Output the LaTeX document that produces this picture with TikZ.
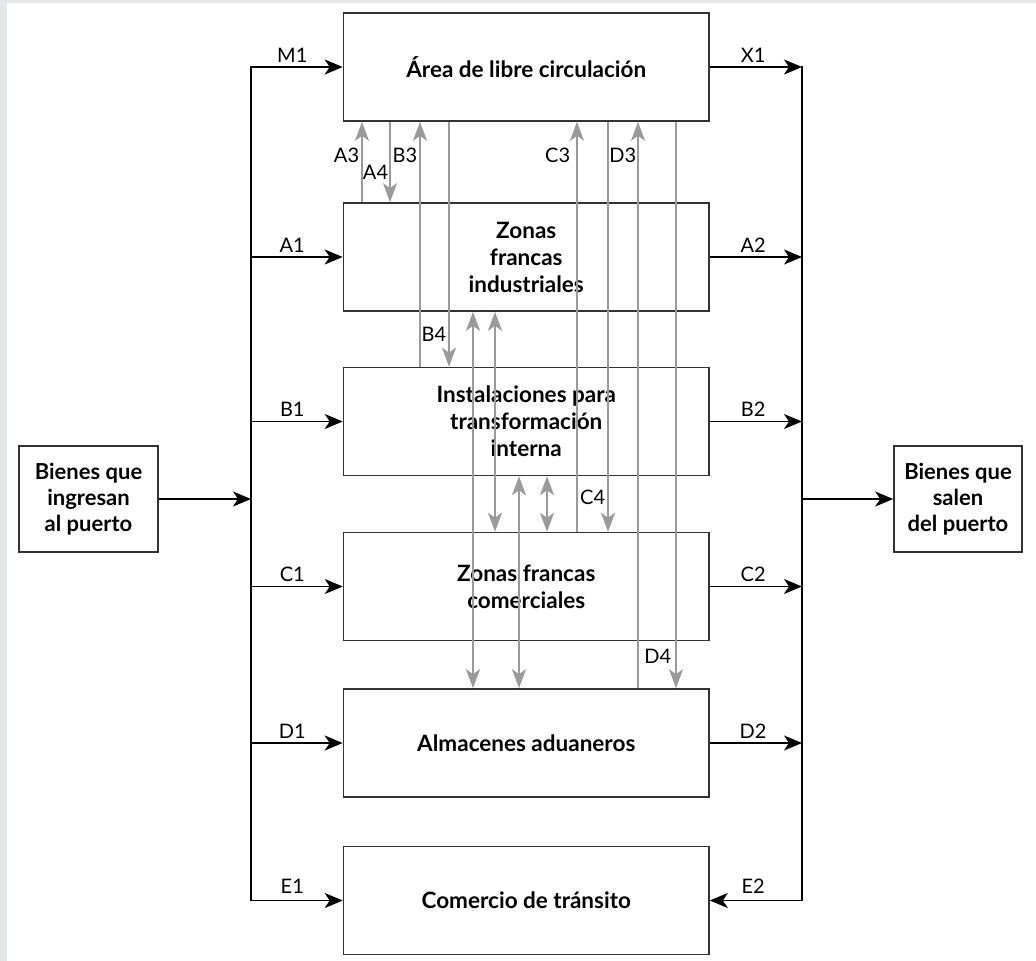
\documentclass[tikz,border=0pt]{standalone}
\usepackage{fontspec}
\setmainfont{Lato}
\usetikzlibrary{arrows.meta}
\definecolor{bggray}{HTML}{E6E7E9}
\definecolor{boxline}{HTML}{333333}
\definecolor{garrowc}{HTML}{9A9A9A}
\begin{document}
\begin{tikzpicture}[x=1pt,y=-1pt,
  box/.style={draw=boxline, line width=1.6pt, fill=white, minimum width=365.5pt, minimum height=108pt, inner sep=0pt, align=center, font=\bfseries\fontsize{22.5}{27}\selectfont},
  sidebox/.style={draw=boxline, line width=1.6pt, fill=white, minimum height=106pt, inner sep=0pt, align=center, font=\bfseries\fontsize{22}{26}\selectfont},
  bus/.style={line width=1.8pt, line cap=rect},
  flow/.style={line width=1.8pt, -{Stealth[length=18pt,width=15pt,inset=5pt]}},
  gone/.style={draw=garrowc, line width=1.8pt, -{Stealth[length=19pt,width=14pt,inset=5pt]}},
  gtwo/.style={draw=garrowc, line width=1.8pt, {Stealth[length=19pt,width=14pt,inset=5pt]}-{Stealth[length=19pt,width=14pt,inset=5pt]}},
  lab/.style={font=\fontsize{20}{23}\selectfont, inner sep=0pt, text=black}
]
\useasboundingbox (0,0) rectangle (1036,961);
\fill[bggray] (0,0) rectangle (1036,961);
\fill[white] (7,3) rectangle (1036,961);

% main boxes
\node[box] (top)  at (526.25,67)    {Área de libre circulación};
\node[box] (ind)  at (526.25,257)   {Zonas\\francas\\industriales};
\node[box] (inst) at (526.25,421.5) {Instalaciones para\\transformación\\interna};
\node[box] (com)  at (526.25,586.5) {Zonas francas\\comerciales};
\node[box] (alm)  at (526.25,743)   {Almacenes aduaneros};
\node[box] (tra)  at (526.25,900.5) {Comercio de tránsito};

% side boxes
\node[sidebox, minimum width=139pt] (inL)  at (88.5,499) {Bienes que\\ingresan\\al puerto};
\node[sidebox, minimum width=128pt] (outR) at (958,499)  {Bienes que\\salen\\del puerto};

% buses
\coordinate (lbus) at (251,0);
\coordinate (rbus) at (802,0);
\draw[bus] (top.west -| lbus) -- (tra.west -| lbus);
\draw[bus] (top.east -| rbus) -- (tra.east -| rbus);

% input / output
\draw[flow] (inL.east) -- (inL.east -| lbus);
\draw[flow] (outR.west -| rbus) -- (outR.west);

% left arrows
\draw[flow] (top.west -| lbus)  -- node[lab,above=4pt,pos=0.45] (lM1) {M1} (top.west);
\draw[flow] (ind.west -| lbus)  -- node[lab,above=4pt,pos=0.45] (lA1) {A1} (ind.west);
\draw[flow] (inst.west -| lbus) -- node[lab,above=4pt,pos=0.45] (lB1) {B1} (inst.west);
\draw[flow] (com.west -| lbus)  -- node[lab,above=4pt,pos=0.45] (lC1) {C1} (com.west);
\draw[flow] (alm.west -| lbus)  -- node[lab,above=4pt,pos=0.45] (lD1) {D1} (alm.west);
\draw[flow] (tra.west -| lbus)  -- node[lab,above=6pt,pos=0.45] (lE1) {E1} (tra.west);

% right arrows
\draw[flow] (top.east)  -- node[lab,above=4pt,pos=0.47] (lX1) {X1} (top.east -| rbus);
\draw[flow] (ind.east)  -- node[lab,above=4pt,pos=0.47] (lA2) {A2} (ind.east -| rbus);
\draw[flow] (inst.east) -- node[lab,above=4pt,pos=0.47] (lB2) {B2} (inst.east -| rbus);
\draw[flow] (com.east)  -- node[lab,above=4pt,pos=0.47] (lC2) {C2} (com.east -| rbus);
\draw[flow] (alm.east)  -- node[lab,above=4pt,pos=0.47] (lD2) {D2} (alm.east -| rbus);
\draw[flow] (tra.east -| rbus) -- node[lab,above=6pt,pos=0.53] (lE2) {E2} (tra.east);

% gray connector x positions
\coordinate (g1) at (362,0);
\coordinate (g2) at (390,0);
\coordinate (g3) at (420,0);
\coordinate (g4) at (449,0);
\coordinate (g5) at (473,0);
\coordinate (g6) at (495,0);
\coordinate (g7) at (519,0);
\coordinate (g8) at (547,0);
\coordinate (g9) at (577,0);
\coordinate (g10) at (608,0);
\coordinate (g11) at (638,0);
\coordinate (g12) at (676,0);

\draw[gone] (ind.north -| g1) -- node[lab,anchor=east,xshift=-2pt,pos=0.585] (lA3) {A3} (top.south -| g1);
\draw[gone] (top.south -| g2) -- node[lab,anchor=east,xshift=-1pt,pos=0.634] (lA4) {A4} (ind.north -| g2);
\draw[gone] (inst.north -| g3) -- node[lab,anchor=east,xshift=-2pt,pos=0.862] (lB3) {B3} (top.south -| g3);
\draw[gone] (top.south -| g4) -- node[lab,anchor=east,xshift=-2pt,pos=0.866] (lB4) {B4} (inst.north -| g4);
\draw[gtwo] (ind.south -| g5) -- (alm.north -| g5);
\draw[gtwo] (ind.south -| g6) -- (com.north -| g6);
\draw[gtwo] (inst.south -| g7) -- (alm.north -| g7);
\draw[gtwo] (inst.south -| g8) -- (com.north -| g8);
\draw[gone] (com.north -| g9) -- node[lab,anchor=east,xshift=-6pt,pos=0.917] (lC3) {C3} (top.south -| g9);
\draw[gone] (top.south -| g10) -- node[lab,anchor=east,xshift=-2pt,pos=0.915] (lC4) {C4} (com.north -| g10);
\draw[gone] (alm.north -| g11) -- node[lab,anchor=east,xshift=-1pt,pos=0.940] (lD3) {D3} (top.south -| g11);
\draw[gone] (top.south -| g12) -- node[lab,anchor=east,xshift=-4pt,pos=0.944] (lD4) {D4} (alm.north -| g12);
\end{tikzpicture}
\end{document}
